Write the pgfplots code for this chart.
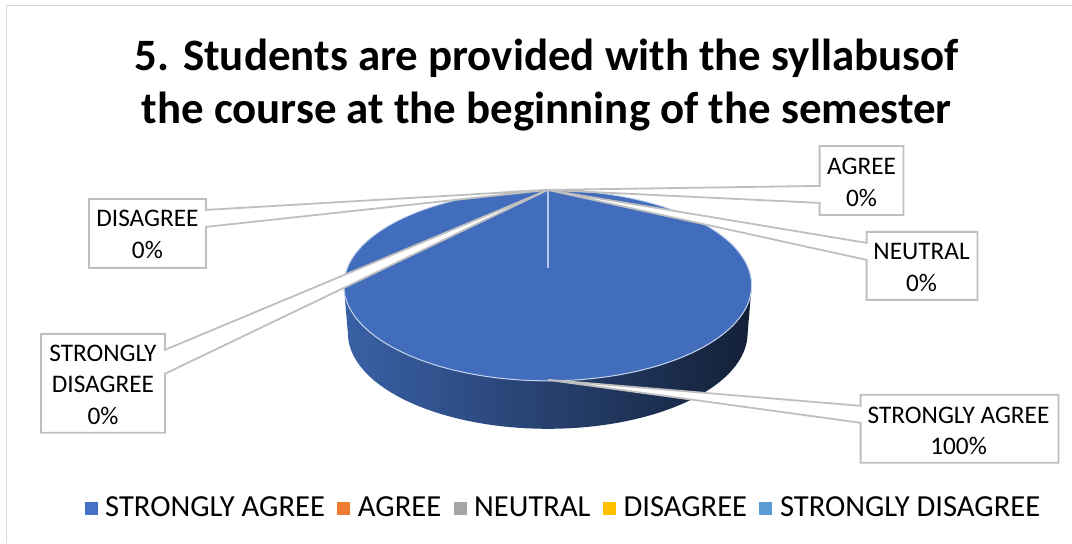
\documentclass[border=0pt]{standalone}
\usepackage{pgfplots}
\pgfplotsset{compat=1.18}
\usepackage{fontspec}
\setmainfont{Carlito}
\definecolor{cblue}{HTML}{4472C4}
\definecolor{corange}{HTML}{ED7D31}
\definecolor{cgray}{HTML}{A5A5A5}
\definecolor{cyellow}{HTML}{FFC000}
\definecolor{clblue}{HTML}{5B9BD5}
\definecolor{lead}{HTML}{BFBFBF}
\begin{document}
\begin{tikzpicture}[x=1pt,y=1pt]
\begin{axis}[
  at={(0pt,0pt)},anchor=south west,
  scale only axis,width=1072pt,height=543pt,
  xmin=0,xmax=1072,ymin=0,ymax=543,y dir=reverse,
  hide axis,clip=false,
  legend style={at={(axis cs:567,508)},anchor=center,draw=none,fill=none,
    legend columns=5,font=\fontsize{30.6}{34}\selectfont,
    nodes={inner xsep=8.5pt},
    /tikz/every even column/.append style={column sep=4pt}},
  legend cell align=left,
]
\path[fill=white] (axis cs:0,0) rectangle (axis cs:1072,543);
\draw[color=lead!60,line width=1pt] (axis cs:1072,5.5) -- (axis cs:7,5.5) -- (axis cs:7,543);
% pie side
\shade[left color=cblue!85!black,middle color=cblue!50!black,right color=cblue!28!black]
  (axis cs:344,285.5) -- (axis cs:348,333) arc[start angle=180,end angle=360,x radius=200pt,y radius=96pt]
  -- (axis cs:752,285.5) -- cycle;
% pie top
\fill[color=cblue!96!black,draw=white!70!cblue,line width=1pt] (axis cs:548,285.5) ellipse[x radius=204pt,y radius=95.5pt];
\draw[color=white!60!cblue,line width=1.5pt] (axis cs:548,191) -- (axis cs:548,268);
\addlegendimage{only marks,mark=square*,mark size=6pt,color=cblue}\addlegendentry{STRONGLY AGREE}
\addlegendimage{only marks,mark=square*,mark size=6pt,color=corange}\addlegendentry{AGREE}
\addlegendimage{only marks,mark=square*,mark size=6pt,color=cgray}\addlegendentry{NEUTRAL}
\addlegendimage{only marks,mark=square*,mark size=6pt,color=cyellow}\addlegendentry{DISAGREE}
\addlegendimage{only marks,mark=square*,mark size=6pt,color=clblue}\addlegendentry{STRONGLY DISAGREE}
% callouts
\tikzset{co/.style={draw=lead,line width=1.8pt,fill=white,line join=miter}}
\fill[co] (axis cs:89,199) -- (axis cs:206,199) -- (axis cs:206,210) -- (axis cs:548,190) -- (axis cs:206,227) -- (axis cs:206,268) -- (axis cs:89,268) -- cycle;
\fill[co] (axis cs:41,334) -- (axis cs:165,334) -- (axis cs:165,350) -- (axis cs:548,190) -- (axis cs:165,374) -- (axis cs:165,433) -- (axis cs:41,433) -- cycle;
\fill[co] (axis cs:820,146) -- (axis cs:904,146) -- (axis cs:904,215) -- (axis cs:820,215) -- (axis cs:820,203) -- (axis cs:548,190) -- (axis cs:820,186) -- cycle;
\fill[co] (axis cs:867,232) -- (axis cs:978,232) -- (axis cs:978,300) -- (axis cs:867,300) -- (axis cs:867,260) -- (axis cs:548,190) -- (axis cs:867,243) -- cycle;
\fill[co] (axis cs:861,395) -- (axis cs:1059,395) -- (axis cs:1059,463) -- (axis cs:861,463) -- (axis cs:861,423) -- (axis cs:548,380) -- (axis cs:861,406) -- cycle;
\tikzset{lab/.style={align=center,font=\fontsize{25.3}{31.5}\selectfont,text=black}}
\node[lab] at (axis cs:147.5,234.5) {DISAGREE\\0\%};
\node[lab] at (axis cs:103,385) {STRONGLY\\DISAGREE\\0\%};
\node[lab] at (axis cs:862,182.5) {AGREE\\0\%};
\node[lab] at (axis cs:922,267.5) {NEUTRAL\\0\%};
\node[lab] at (axis cs:959,431) {STRONGLY AGREE\\100\%};
\node[align=center,font=\fontsize{44.9}{53}\bfseries\selectfont,text=black] at (axis cs:547,85.5) {5. Students are provided with the syllabusof\\the course at the beginning of the semester};
\end{axis}
\end{tikzpicture}
\end{document}
